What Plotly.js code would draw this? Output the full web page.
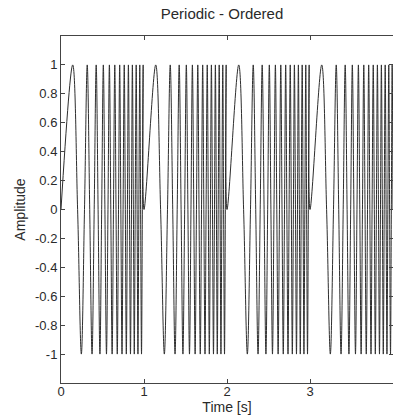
<!DOCTYPE html>
<html><head><meta charset="utf-8">
<script src="https://cdn.plot.ly/plotly-3.0.1.min.js"></script>
<style>html,body{margin:0;padding:0;background:#fff;overflow:hidden}#chart{width:396px;height:418px}</style>
</head><body><div id="chart"></div><script>
// Key points (zero crossings and extrema) of one period (seconds within period)
const periodT = [0.000,0.141,0.200,0.245,0.283,0.316,0.346,0.374,0.400,0.424,0.447,0.469,0.490,0.510,0.529,0.548,0.566,0.583,0.600,0.616,0.632,0.648,0.663,0.678,0.693,0.707,0.721,0.735,0.748,0.762,0.775,0.787,0.800,0.812,0.825,0.837,0.849,0.860,0.872,0.883,0.894,0.906,0.917,0.927,0.938,0.949,0.959,0.970,0.980,0.990];
const periodY = [0,1,0,-1,0,1,0,-1,0,1,0,-1,0,1,0,-1,0,1,0,-1,0,1,0,-1,0,1,0,-1,0,1,0,-1,0,1,0,-1,0,1,0,-1,0,1,0,-1,0,1,0,-1,0,1];
const periodStarts = [0,1,2,3];
const endTime = [4];
const endValue = [0];
const xTickVals = [0,1,2,3,4];
const xTickText = ['0','1','2','3','4'];
const yTickVals = [-1,-0.8,-0.6,-0.4,-0.2,0,0.2,0.4,0.6,0.8,1];
const yTickText = ['-1','-0.8','-0.6','-0.4','-0.2','0','0.2','0.4','0.6','0.8','1'];

const xs = [], ys = [];
periodStarts.forEach(p => {
  periodT.forEach((t, i) => { xs.push(p + t); ys.push(periodY[i]); });
});
xs.push(endTime[0]); ys.push(endValue[0]);

const fam = '"Liberation Sans", Arial, sans-serif';
const tickFont = {family:fam, size:13, color:'#2a2a2a'};
const labFont = {family:fam, size:14, color:'#2a2a2a'};
const titleFont = {family:fam, size:15, color:'#2a2a2a'};
const trace = {x: xs, y: ys, type:'scatter', mode:'lines',
  line:{color:'#2e2e2e', width:1, shape:'spline', smoothing:1}, hoverinfo:'skip'};
const axisCommon = {showgrid:false, zeroline:false, showline:true, linecolor:'#444', linewidth:1,
  ticks:'inside', ticklen:4, tickcolor:'#444', mirror:'ticks', tickfont:tickFont};
const layout = {
  width:396, height:418,
  margin:{l:61, r:3, t:36, b:35},
  paper_bgcolor:'#fff', plot_bgcolor:'#fff',
  showlegend:false,
  font:tickFont,
  title:{text:'Periodic - Ordered', font:titleFont, x:222/396, xref:'container', xanchor:'center', y:1-14/418, yref:'container', yanchor:'middle'},
  xaxis:Object.assign({}, axisCommon, {range:[0,4], tickmode:'array', tickvals:xTickVals, ticktext:xTickText,
    ticklabelstandoff:-4, title:{text:'Time [s]', font:labFont, standoff:0}}),
  yaxis:Object.assign({}, axisCommon, {range:[-1.2,1.2], tickmode:'array', tickvals:yTickVals, ticktext:yTickText,
    title:{text:'Amplitude', font:labFont, standoff:6}})
};
Plotly.newPlot('chart', [trace], layout, {displayModeBar:false, staticPlot:true});
</script></body></html>
